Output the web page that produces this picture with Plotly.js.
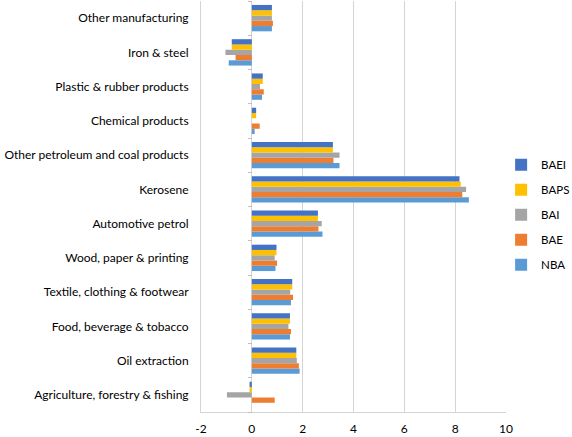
<!DOCTYPE html>
<html>
<head>
<meta charset="utf-8">
<script src="https://cdn.plot.ly/plotly-3.0.1.min.js"></script>
<style>html,body{margin:0;padding:0;background:#fff;}#chart{width:572px;height:437px;}</style>
</head>
<body>
<div id="chart"></div>
<script>
var categories = ["Agriculture, forestry & fishing", "Oil extraction", "Food, beverage & tobacco",
  "Textile, clothing & footwear", "Wood, paper & printing", "Automotive petrol", "Kerosene",
  "Other petroleum and coal products", "Chemical products", "Plastic & rubber products",
  "Iron & steel", "Other manufacturing"];
var BAEI = [-0.09, 1.75, 1.50, 1.59, 0.97, 2.60, 8.17, 3.19, 0.17, 0.43, -0.79, 0.79];
var BAPS = [-0.09, 1.75, 1.50, 1.59, 0.97, 2.60, 8.22, 3.19, 0.17, 0.43, -0.79, 0.79];
var BAI  = [-0.98, 1.77, 1.44, 1.51, 0.90, 2.75, 8.43, 3.45, 0.00, 0.32, -1.04, 0.79];
var BAE  = [0.90, 1.85, 1.54, 1.62, 0.99, 2.62, 8.28, 3.21, 0.31, 0.47, -0.64, 0.83];
var NBA  = [0.00, 1.88, 1.50, 1.54, 0.93, 2.78, 8.54, 3.45, 0.11, 0.40, -0.91, 0.79];
var xTicks = [-2, 0, 2, 4, 6, 8, 10];

var series = [
  {name: "NBA", v: NBA, c: "#5B9BD5", rank: 5},
  {name: "BAE", v: BAE, c: "#ED7D31", rank: 4},
  {name: "BAI", v: BAI, c: "#A5A5A5", rank: 3},
  {name: "BAPS", v: BAPS, c: "#FFC000", rank: 2},
  {name: "BAEI", v: BAEI, c: "#4472C4", rank: 1}
];
var font = "Lato, 'Liberation Sans', sans-serif";
var traces = series.map(function (s) {
  return {type: "bar", orientation: "h", name: s.name, x: s.v, y: categories,
    marker: {color: s.c}, legendgroup: s.name, legendrank: s.rank, hoverinfo: "x+name"};
});
traces.push({type: "scatter", mode: "markers", x: categories.map(function () { return null; }),
  y: categories, yaxis: "y2", showlegend: false, hoverinfo: "skip", marker: {opacity: 0}});

var layout = {
  width: 572, height: 437,
  margin: {l: 201, r: 66, t: 1, b: 25, autoexpand: false},
  paper_bgcolor: "#fff", plot_bgcolor: "#fff",
  font: {family: font, size: 12, color: "#000"},
  barmode: "group", bargap: 0.23, bargroupgap: 0,
  showlegend: true,
  legend: {traceorder: "grouped", tracegroupgap: 6, x: 0.984, xanchor: "left",
    y: 0.48, yanchor: "middle", itemwidth: 30, bgcolor: "rgba(0,0,0,0)",
    font: {family: font, size: 11.5, color: "#000"}},
  xaxis: {range: [-2, 10], tickvals: xTicks, ticktext: xTicks.map(String), showgrid: true,
    gridcolor: "#d4d4d4", zeroline: true, zerolinecolor: "#d4d4d4", zerolinewidth: 1,
    showline: true, linecolor: "#d4d4d4", ticks: "", ticklabelstandoff: 6,
    tickfont: {size: 12}, fixedrange: true},
  yaxis: {type: "category", categoryorder: "array", categoryarray: categories,
    range: [-0.5, categories.length - 0.5], showgrid: false, zeroline: false,
    showline: true, linecolor: "#d4d4d4", ticks: "", ticklabelstandoff: 9,
    tickfont: {size: 12}, automargin: false, fixedrange: true},
  yaxis2: {type: "category", categoryorder: "array", categoryarray: categories,
    overlaying: "y", anchor: "free", position: 2 / 12, side: "left",
    range: [-0.5, categories.length - 0.5], showgrid: false, zeroline: false,
    showline: false, showticklabels: false, ticks: "outside", tickson: "boundaries",
    ticklen: 4, tickcolor: "#bfbfbf", tickwidth: 1, fixedrange: true}
};
Plotly.newPlot("chart", traces, layout, {displayModeBar: false, staticPlot: true});
</script>
</body>
</html>
